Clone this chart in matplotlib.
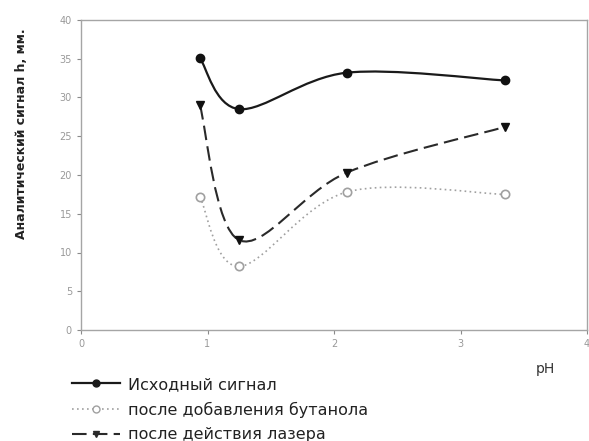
import numpy as np
import matplotlib.pyplot as plt
from matplotlib.path import Path
from matplotlib.patches import PathPatch
from matplotlib.lines import Line2D

# pH points and signals
ph = [0.94, 1.25, 2.10, 3.35]
s_init = [35.1, 28.5, 33.2, 32.2]
s_butanol = [17.2, 8.2, 17.8, 17.5]
s_laser = [29.0, 11.6, 20.3, 26.2]

labels = ['Исходный сигнал', 'после добавления бутанола', 'после действия лазера']


def smooth_patch(x, y, **kw):
    # Excel-like smoothed line: cubic bezier segments, catmull-rom control points
    x = np.asarray(x, float)
    y = np.asarray(y, float)
    px = np.concatenate([[x[0]], x, [x[-1]]])
    py = np.concatenate([[y[0]], y, [y[-1]]])
    verts = [(x[0], y[0])]
    codes = [Path.MOVETO]
    for i in range(1, len(x)):
        c1 = (px[i] + (px[i + 1] - px[i - 1]) / 6, py[i] + (py[i + 1] - py[i - 1]) / 6)
        c2 = (px[i + 1] - (px[i + 2] - px[i]) / 6, py[i + 1] - (py[i + 2] - py[i]) / 6)
        verts += [c1, c2, (px[i + 1], py[i + 1])]
        codes += [Path.CURVE4] * 3
    return PathPatch(Path(verts, codes), fill=False, **kw)


fig = plt.figure(figsize=(5.89, 4.41), dpi=100)
ax = fig.add_axes([81 / 589, 111 / 441, 506 / 589, 310 / 441])

gray = '#8a8a8a'
ax.add_patch(smooth_patch(ph, s_init, edgecolor='#1a1a1a', lw=1.6))
ax.add_patch(smooth_patch(ph, s_butanol, edgecolor='#a0a0a0', lw=1.2, linestyle=(0, (1, 2))))
ax.add_patch(smooth_patch(ph, s_laser, edgecolor='#2a2a2a', lw=1.5, linestyle=(0, (7, 3))))

ax.plot(ph, s_init, ls='none', marker='o', ms=6, color='#111111')
ax.plot(ph, s_butanol, ls='none', marker='o', ms=6, mfc='white', mec='#a0a0a0', mew=1.2)
ax.plot(ph, s_laser, ls='none', marker='v', ms=6, color='#111111')

ax.set_xlim(0, 4)
ax.set_ylim(0, 40)
ax.set_xticks([0, 1, 2, 3, 4])
ax.set_yticks(range(0, 41, 5))
ax.tick_params(colors=gray, labelsize=7, length=3, width=0.8, labelcolor='#999999')
for sp in ax.spines.values():
    sp.set_color('#a5a5a5')
    sp.set_linewidth(1.0)

fig.text(22 / 589, 1 - 134 / 441, 'Аналитический сигнал h, мм.', rotation=90,
         ha='center', va='center', fontsize=9, fontweight='bold', color='#222222')
fig.text(545 / 589, 1 - 369 / 441, 'pH', ha='center', va='center', fontsize=10, color='#333333')

handles = [
    Line2D([], [], color='#1a1a1a', lw=1.6, marker='o', ms=5),
    Line2D([], [], color='#a0a0a0', lw=1.2, ls=(0, (1, 2)), marker='o', ms=5, mfc='white'),
    Line2D([], [], color='#2a2a2a', lw=1.5, ls=(0, (7, 3)), marker='v', ms=5),
]
fig.legend(handles, labels, loc='upper left', bbox_to_anchor=(72 / 589, 1 - 377 / 441),
           frameon=False, fontsize=11.5, handlelength=3.0, labelspacing=0.6,
           handletextpad=0.5, borderpad=0, borderaxespad=0, labelcolor='#222222')

fig.savefig('out.png', dpi=100)
